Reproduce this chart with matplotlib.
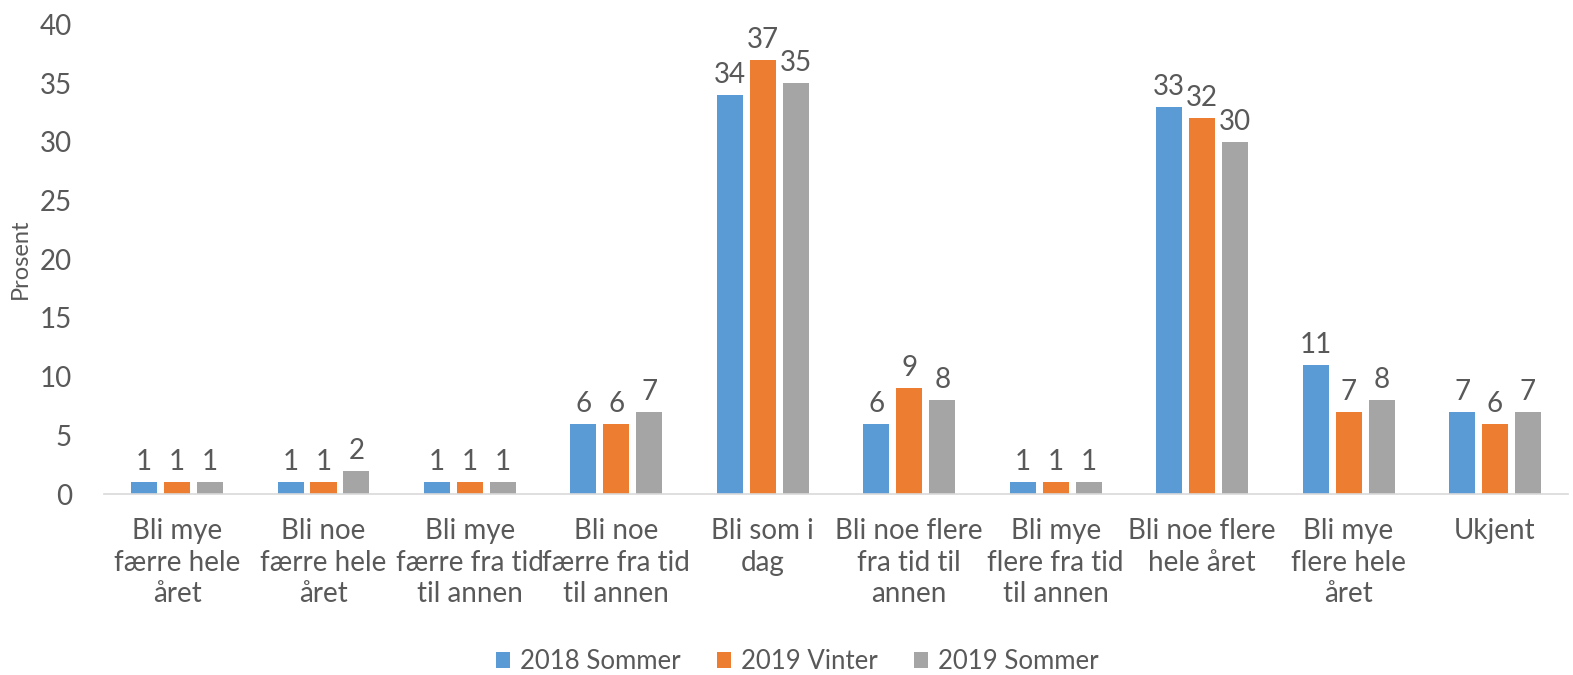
import numpy as np
import matplotlib.pyplot as plt

plt.rcParams['font.family'] = ['Lato', 'DejaVu Sans']

categories = ["Bli mye\nfærre hele\nåret", "Bli noe\nfærre hele\nåret",
              "Bli mye\nfærre fra tid\ntil annen", "Bli noe\nfærre fra tid\ntil annen",
              "Bli som i\ndag", "Bli noe flere\nfra tid til\nannen",
              "Bli mye\nflere fra tid\ntil annen", "Bli noe flere\nhele året",
              "Bli mye\nflere hele\nåret", "Ukjent"]
series_names = ["2018 Sommer", "2019 Vinter", "2019 Sommer"]
s2018_sommer = [1, 1, 1, 6, 34, 6, 1, 33, 11, 7]
s2019_vinter = [1, 1, 1, 6, 37, 9, 1, 32, 7, 6]
s2019_sommer = [1, 2, 1, 7, 35, 8, 1, 30, 8, 7]
colors = ["#5B9BD5", "#ED7D31", "#A5A5A5"]
txt = "#595959"

fig = plt.figure(figsize=(15.73, 6.75), dpi=100)
ax = fig.add_axes([0.066, 0.268, 0.931, 0.696])

x = np.arange(len(categories))
w = 0.178
step = 0.225
for i, (vals, name) in enumerate(zip([s2018_sommer, s2019_vinter, s2019_sommer], series_names)):
    bars = ax.bar(x + (i - 1) * step, vals, w, color=colors[i], label=name)
    ax.bar_label(bars, padding=5, fontsize=20, color=txt)

ax.set_xlim(-0.5, len(categories) - 0.5)
ax.set_ylim(0, 40)
ax.set_yticks(range(0, 41, 5))
ax.set_xticks(x)
ax.set_xticklabels(categories, linespacing=1.28)
ax.tick_params(axis='both', length=0, labelsize=20, labelcolor=txt)
ax.tick_params(axis='x', pad=17)
ax.tick_params(axis='y', pad=23)
for side in ['top', 'right', 'left']:
    ax.spines[side].set_visible(False)
ax.spines['bottom'].set_color('#D9D9D9')
ax.spines['bottom'].set_linewidth(1.2)
ax.set_ylabel("Prosent", fontsize=17, color=txt, labelpad=6)

fig.legend(loc='center', bbox_to_anchor=(0.507, 0.02), ncol=3, frameon=False,
           fontsize=18.5, labelcolor=txt, handlelength=0.55, handleheight=0.55,
           handletextpad=0.4, columnspacing=1.4)

fig.savefig("out.png", dpi=100)
